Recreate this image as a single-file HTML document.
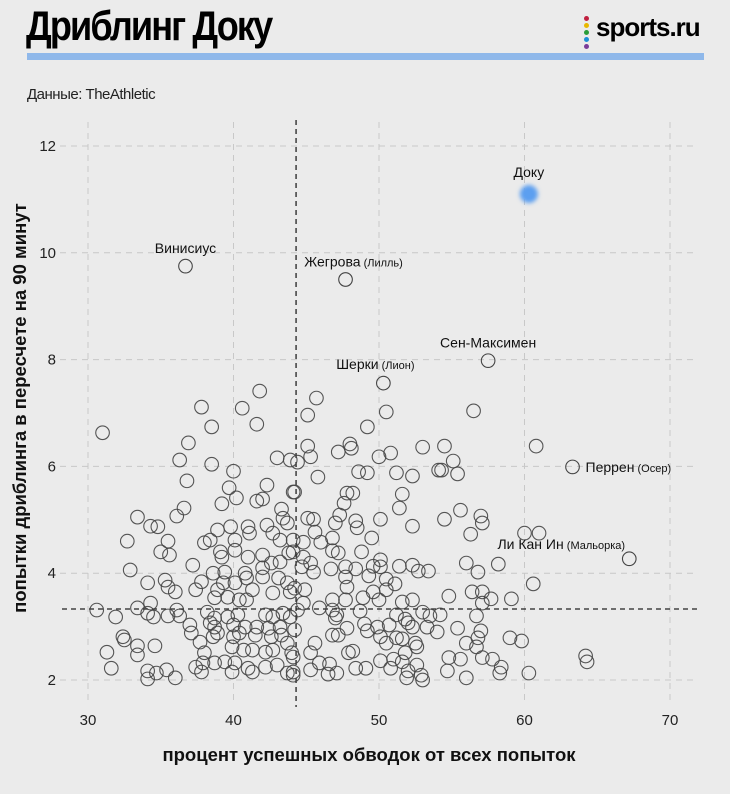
<!DOCTYPE html>
<html><head><meta charset="utf-8">
<style>
html,body{margin:0;padding:0;background:#ebebeb;}
body{width:730px;height:794px;overflow:hidden;position:relative;font-family:"Liberation Sans","Noto Sans CJK SC",sans-serif;}
.title{position:absolute;left:26px;top:2px;font-size:42px;font-weight:bold;color:#000;letter-spacing:-2.2px;transform:scaleX(0.86);transform-origin:left top;}
.logo{position:absolute;left:596px;top:12px;font-size:26px;font-weight:bold;color:#000;letter-spacing:-1px;}
.bar{position:absolute;left:27px;top:53px;width:677px;height:7px;background:#8fb8ea;}
.src{position:absolute;left:27px;top:86px;font-size:15px;color:#222;letter-spacing:-0.5px;}
svg{position:absolute;left:0;top:0;}
</style></head>
<body>
<div class="title">Дриблинг Доку</div>
<div style="position:absolute;left:584px;top:16px;width:6px;">
<div style="width:5px;height:5px;border-radius:50%;background:#c0203f;margin-bottom:2px"></div>
<div style="width:5px;height:5px;border-radius:50%;background:#e8b800;margin-bottom:2px"></div>
<div style="width:5px;height:5px;border-radius:50%;background:#2a9d3a;margin-bottom:2px"></div>
<div style="width:5px;height:5px;border-radius:50%;background:#1e90d6;margin-bottom:2px"></div>
<div style="width:5px;height:5px;border-radius:50%;background:#7a3d9a"></div>
</div>
<div class="logo">sports.ru</div>
<div class="bar"></div>
<div class="src">Данные: TheAthletic</div>
<svg id="chart" width="730" height="794">
<defs><filter id="blur" x="-1" y="-1" width="3" height="3"><feGaussianBlur stdDeviation="2"/></filter></defs>
</svg>
<script>
const xTicks=[30,40,50,60,70];
const yTicks=[2,4,6,8,10,12];
const xs=[41.8,37.8,40.6,41.6,31.0,38.5,36.9,36.3,38.5,43.0,43.9,40.0,36.8,39.7,42.3,40.2,39.2,41.6,42.0,44.1,36.6,36.1,33.4,34.3,34.8,43.3,43.4,43.7,38.9,39.8,41.0,42.3,32.7,35.5,38.0,38.4,40.1,41.1,42.7,43.2,44.1,35.0,35.6,39.1,40.1,41.0,42.0,43.8,37.2,39.2,42.0,42.6,43.2,32.9,38.6,39.4,40.8,42.0,43.1,34.1,35.3,35.5,36.0,37.4,37.8,38.9,39.3,40.1,40.9,41.3,42.7,43.7,43.9,38.7,39.6,40.4,40.9,34.3,33.4,30.6,31.9,34.1,34.5,35.5,36.1,36.3,38.2,38.7,39.6,40.3,42.2,42.7,43.4,43.9,37.0,38.4,38.7,40.0,40.8,41.6,42.4,43.2,32.4,32.5,33.4,34.6,37.1,37.7,38.6,38.9,40.0,40.4,41.5,42.6,43.3,43.7,31.3,33.4,38.0,39.9,40.7,41.3,42.2,42.7,44.0,31.6,34.1,34.7,35.4,36.0,34.1,37.4,37.9,37.8,38.7,39.4,40.1,39.9,41.0,41.3,42.2,43.0,43.7,44.1,44.1,
45.7,45.1,50.5,56.5,49.2,45.1,45.3,47.2,48.0,48.1,50.0,50.8,53.0,54.5,55.1,44.4,45.8,48.6,49.2,51.2,52.3,54.1,55.4,44.2,47.8,48.2,51.6,47.6,51.4,47.3,45.1,45.5,48.4,48.5,50.1,52.3,54.5,55.6,57.0,57.1,56.3,47.0,45.6,44.8,46.0,46.8,49.5,46.8,47.2,48.8,44.8,44.1,45.3,45.5,44.7,46.7,47.7,48.4,47.7,49.6,50.1,50.1,49.3,50.5,51.1,51.4,52.3,52.7,53.4,56.0,56.8,47.8,44.9,44.2,49.6,50.5,50.0,48.9,47.7,46.8,54.8,56.4,57.1,57.1,51.6,52.3,44.8,44.4,45.9,46.8,48.7,47.1,47.0,53.0,53.5,54.2,56.7,47.8,49.0,49.2,49.9,50.7,51.2,51.8,52.0,52.3,53.3,54.0,55.4,57.0,44.2,46.8,47.2,50.1,50.5,51.2,51.6,52.5,56.0,56.8,56.7,45.6,45.3,47.9,48.2,51.8,52.6,54.8,55.6,57.1,57.8,45.9,46.6,50.1,51.0,51.6,52.6,45.3,46.5,47.1,48.4,49.1,50.8,52.0,51.9,52.9,53.0,54.7,56.0,44.1,
60.8,54.3,60.0,61.0,58.2,60.6,57.7,59.1,59.0,59.8,58.4,58.3,60.3,64.2,64.3];
const ys=[7.41,7.11,7.09,6.79,6.63,6.74,6.44,6.12,6.04,6.16,6.12,5.91,5.73,5.60,5.65,5.41,5.30,5.35,5.39,5.52,5.22,5.07,5.05,4.88,4.87,5.20,5.03,4.94,4.81,4.87,4.87,4.90,4.60,4.60,4.57,4.62,4.62,4.75,4.75,4.62,4.62,4.40,4.34,4.40,4.43,4.30,4.34,4.38,4.15,4.30,4.10,4.19,4.21,4.06,4.00,4.02,4.00,3.93,3.91,3.82,3.87,3.74,3.65,3.69,3.84,3.69,3.82,3.82,3.91,3.69,3.63,3.82,3.65,3.54,3.55,3.50,3.50,3.44,3.35,3.31,3.18,3.25,3.18,3.20,3.31,3.20,3.27,3.16,3.18,3.22,3.22,3.18,3.25,3.18,3.03,3.07,2.99,3.03,2.99,2.99,2.97,2.99,2.81,2.75,2.64,2.64,2.88,2.71,2.81,2.88,2.81,2.88,2.84,2.81,2.84,2.69,2.52,2.47,2.51,2.62,2.56,2.56,2.52,2.56,2.51,2.22,2.17,2.13,2.19,2.04,2.02,2.24,2.32,2.15,2.32,2.34,2.32,2.15,2.22,2.15,2.24,2.28,2.13,2.09,2.43,
7.28,6.96,7.02,7.04,6.74,6.38,6.18,6.27,6.42,6.34,6.18,6.25,6.36,6.38,6.10,6.08,5.80,5.90,5.88,5.88,5.82,5.93,5.86,5.52,5.50,5.50,5.48,5.31,5.22,5.09,5.03,5.01,4.98,4.85,5.01,4.88,5.01,5.18,5.07,4.94,4.73,4.94,4.77,4.58,4.58,4.66,4.66,4.42,4.38,4.40,4.30,4.40,4.19,4.02,4.12,4.08,4.12,4.08,3.93,4.13,4.25,4.12,3.95,3.89,3.80,4.13,4.15,4.04,4.04,4.19,4.02,3.74,3.69,3.72,3.65,3.69,3.50,3.54,3.50,3.50,3.57,3.65,3.65,3.44,3.46,3.50,3.44,3.31,3.35,3.31,3.29,3.22,3.16,3.27,3.20,3.22,3.20,2.97,3.05,2.92,2.99,3.03,3.22,3.14,3.07,2.99,2.99,2.90,2.97,2.92,2.94,2.84,2.84,2.81,2.69,2.79,2.77,2.69,2.69,2.79,2.62,2.69,2.51,2.51,2.54,2.51,2.62,2.42,2.39,2.42,2.39,2.32,2.30,2.36,2.39,2.34,2.28,2.19,2.11,2.13,2.22,2.22,2.22,2.17,2.04,2.09,2.00,2.17,2.04,2.15,
6.38,5.93,4.75,4.75,4.17,3.80,3.52,3.52,2.79,2.73,2.24,2.13,2.13,2.45,2.34];
const labNames=["Винисиус","Жегрова","Сен-Максимен","Шерки","Перрен","Ли Кан Ин"];
const labClubs=["","(Лилль)","","(Лион)","(Осер)","(Мальорка)"];
const labX=[36.7,47.7,57.5,50.3,63.3,67.2];
const labY=[9.75,9.5,7.98,7.56,5.99,4.27];
const dokuX=[60.3];
const dokuY=[11.1];
const medianX=44.3;
const medianY=3.33;

const NS="http://www.w3.org/2000/svg";
const svg=document.getElementById('chart');
const sx=v=>88+(v-30)*14.55;
const sy=v=>680-(v-2)*53.4;
function mk(tag,at){const e=document.createElementNS(NS,tag);for(const k in at)e.setAttribute(k,at[k]);svg.appendChild(e);return e;}

xTicks.forEach(t=>{
  const l=mk('line',{x1:sx(t),x2:sx(t),y1:122,y2:700,stroke:'#c8c8c8','stroke-width':1,'stroke-dasharray':'6,5'});
  
  
  const tx=mk('text',{x:sx(t),y:725,'text-anchor':'middle','font-size':15,fill:'#222'});
  tx.textContent=t;
  
  
});
yTicks.forEach(t=>{
  const l=mk('line',{x1:60,x2:698,y1:sy(t),y2:sy(t),stroke:'#c8c8c8','stroke-width':1,'stroke-dasharray':'6,5'});
  
  
  const tx=mk('text',{x:56,y:sy(t)+5,'text-anchor':'end','font-size':15,fill:'#222'});
  tx.textContent=t;
  
  
});
const mvx=mk('line',{x1:sx(medianX),x2:sx(medianX),y1:120,y2:707,stroke:'#222','stroke-width':1.3,'stroke-dasharray':'5,4'});


const mvy=mk('line',{x1:62,x2:697,y1:sy(medianY),y2:sy(medianY),stroke:'#222','stroke-width':1.3,'stroke-dasharray':'5,4'});



for(let i=0;i<xs.length;i++){
  const c=mk('circle',{cx:sx(xs[i]),cy:sy(ys[i]),r:6.8,fill:'none',stroke:'#444','stroke-width':1.1,'stroke-opacity':0.9});
  
  
}
for(let i=0;i<labX.length;i++){
  const c=mk('circle',{cx:sx(labX[i]),cy:sy(labY[i]),r:6.8,fill:'none',stroke:'#444','stroke-width':1.1});
  
  
  let tx,ty,anchor;
  if(i===4){tx=sx(labX[i])+13;ty=sy(labY[i])+5;anchor='start';}
  else if(i===5){tx=sx(labX[i])-68;ty=sy(labY[i])-10;anchor='middle';}
  else if(i===3){tx=sx(labX[i])-8;ty=sy(labY[i])-14;anchor='middle';}
  else if(i===1){tx=sx(labX[i])+8;ty=sy(labY[i])-13;anchor='middle';}
  else{tx=sx(labX[i]);ty=sy(labY[i])-13;anchor='middle';}
  const t=mk('text',{x:tx,y:ty,'text-anchor':anchor,'font-size':14,fill:'#111'});
  t.textContent=labNames[i];
  if(labClubs[i]){const s=document.createElementNS(NS,'tspan');s.setAttribute('font-size',11);s.textContent=' '+labClubs[i];t.appendChild(s);}
  
  
}
const d=mk('circle',{cx:sx(dokuX[0]),cy:sy(dokuY[0]),r:9,fill:'#5c9ff0',filter:'url(#blur)'});


const dt=mk('text',{x:sx(dokuX[0]),y:sy(dokuY[0])-17,'text-anchor':'middle','font-size':14,fill:'#111'});
dt.textContent='Доку';



const xt=mk('text',{x:369,y:761,'text-anchor':'middle','font-size':18.5,'font-weight':'bold',fill:'#111'});
xt.textContent='процент успешных обводок от всех попыток';


const yt=mk('text',{x:0,y:0,'text-anchor':'middle','font-size':18.5,'font-weight':'bold',fill:'#111',transform:'translate(26,408) rotate(-90)'});
yt.textContent='попытки дриблинга в пересчете на 90 минут';


</script>
</body></html>
